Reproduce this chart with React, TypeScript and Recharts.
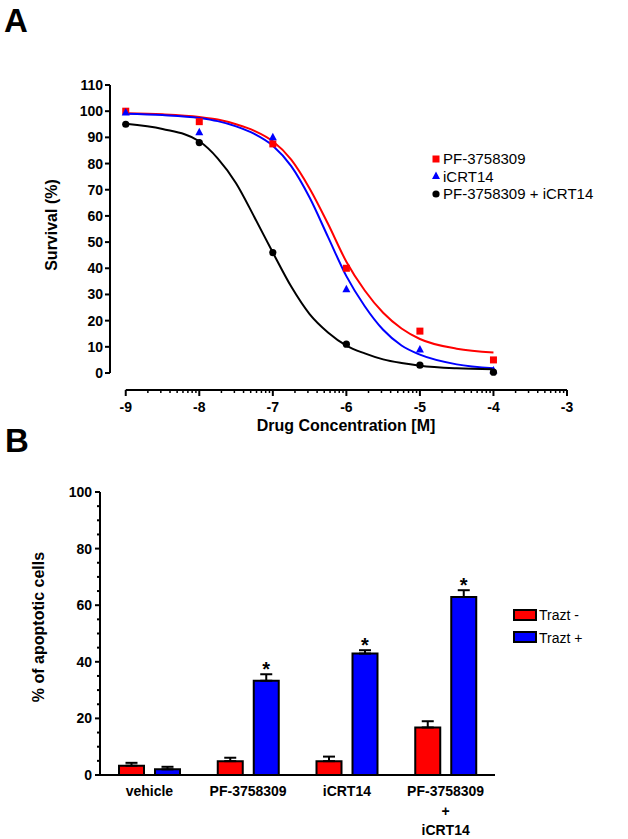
import React from "react";
import {
  ComposedChart,
  Line,
  Scatter,
  XAxis,
  YAxis,
  ReferenceLine,
  Legend,
  BarChart,
  Bar,
  ErrorBar,
  LabelList,
  Label,
} from "recharts";

const FONT = "'Liberation Sans', Arial, Helvetica, sans-serif";

// ---- Panel A: survival vs log dose ----
const seriesA = ["PF-3758309", "iCRT14", "PF-3758309 + iCRT14"];
const doseLog = [-9, -8, -7, -6, -5, -4];
const pfSurvival = [100, 96, 87.5, 40, 16, 5];
const icrtSurvival = [99.5, 92, 90, 32, 9, 1];
const comboSurvival = [95, 88, 46, 11, 3, 0.3];

// fitted curves
const fitLog = [-9, -8.5, -8, -7.75, -7.5, -7.25, -7, -6.75, -6.5, -6.25, -6, -5.75, -5.5, -5.25, -5, -4.5, -4];
const pfFit = [99.2, 98.8, 97.8, 96.8, 95, 92.5, 88.5, 81.5, 70.5, 57, 42.5, 31.5, 23, 17, 13, 9.3, 7.8];
const icrtFit = [99, 98.5, 97.4, 96.2, 94.2, 91.3, 86.8, 79, 67, 52, 37, 25.5, 16.5, 10.5, 7, 3.3, 1.8];
const comboFit = [95.2, 93.2, 88.5, 82, 72.5, 59.5, 46, 33, 22.5, 15.5, 10.5, 7.5, 5.2, 3.8, 2.8, 1.8, 1.4];

const xTickLabels = [-9, -8, -7, -6, -5, -4, -3];
const yTicksA = [0, 10, 20, 30, 40, 50, 60, 70, 80, 90, 100, 110];

// ---- Panel B: apoptosis ----
const seriesB = ["Trazt -", "Trazt +"];
const groups = ["vehicle", "PF-3758309", "iCRT14", "PF-3758309 + iCRT14"];
const traztMinus = [3.3, 4.9, 4.9, 16.8];
const traztMinusSem = [1.0, 1.2, 1.6, 2.2];
const traztPlus = [2.0, 33.3, 42.9, 62.9];
const traztPlusSem = [0.9, 2.3, 1.2, 2.4];
const significant = [false, true, true, true];
const yTicksB = [0, 5, 10, 15, 20, 25, 30, 35, 40, 45, 50, 55, 60, 65, 70, 75, 80, 85, 90, 95, 100];

const pts = (xs: number[], ys: number[]) => xs.map((x, i) => ({ x, y: ys[i] }));

const minorTicks = xTickLabels
  .slice(0, -1)
  .flatMap((d) => [2, 3, 4, 5, 6, 7, 8, 9].map((k) => d + Math.log10(k)));
const xTicksA = [...xTickLabels, ...minorTicks].sort((a, b) => a - b);

const barData = groups.map((g, i) => ({
  group: g,
  minus: traztMinus[i],
  minusErr: [0, traztMinusSem[i]],
  plus: traztPlus[i],
  plusErr: [0, traztPlusSem[i]],
}));

const X_LEFT = -9.214;
const Y_BOTTOM = -6.49;

const ordered = (payload: any[], names: string[]) =>
  (payload || [])
    .filter((e) => names.includes(e.value))
    .sort((a, b) => names.indexOf(a.value) - names.indexOf(b.value));

function Marker({ type, cx, cy, fill }: any) {
  if (type === "square") return <rect x={cx - 3.5} y={cy - 3.5} width={7} height={7} fill={fill} />;
  if (type === "triangle")
    return <polygon points={`${cx},${cy - 4.5} ${cx - 4},${cy + 3} ${cx + 4},${cy + 3}`} fill={fill} />;
  return <circle cx={cx} cy={cy} r={3.6} fill={fill} />;
}

const DoseTick = ({ x, y, payload }: any) => {
  const major = xTickLabels.includes(payload.value);
  return (
    <g>
      <line x1={x} y1={y} x2={x} y2={y + (major ? 6 : 3)} stroke="#000" strokeWidth={major ? 2 : 1.5} />
      {major && (
        <text x={x} y={y + 22} textAnchor="middle" fontSize={14} fontWeight="bold" fontFamily={FONT} fill="#000">
          {payload.value}
        </text>
      )}
    </g>
  );
};

const PercentTick = ({ x, y, payload }: any) => {
  const major = payload.value % 20 === 0;
  return (
    <g>
      <line x1={x - (major ? 5 : 3)} y1={y} x2={x} y2={y} stroke="#000" strokeWidth={2} />
      {major && (
        <text x={x - 8} y={y} dy="0.355em" textAnchor="end" fontSize={14} fontWeight="bold" fontFamily={FONT} fill="#000">
          {payload.value}
        </text>
      )}
    </g>
  );
};

const GroupTick = ({ x, y, payload }: any) => {
  const lines = String(payload.value).split(" + ");
  const rows = lines.length > 1 ? [lines[0], "+", lines[1]] : lines;
  return (
    <g>
      {rows.map((r, i) => (
        <text key={i} x={x} y={y + 21 + i * 19.5} textAnchor="middle" fontSize={14} fontWeight="bold" fontFamily={FONT} fill="#000">
          {r}
        </text>
      ))}
    </g>
  );
};

const LegendA = ({ payload }: any) => (
  <div style={{ fontFamily: FONT, fontSize: 15, color: "#000", lineHeight: "17.5px" }}>
    {ordered(payload, seriesA).map((e: any) => (
      <div key={e.value} style={{ display: "flex", alignItems: "center", whiteSpace: "nowrap" }}>
        <svg width={12} height={10}>
          <Marker type={e.type} cx={5} cy={5} fill={e.color} />
        </svg>
        <span>{e.value}</span>
      </div>
    ))}
  </div>
);

const LegendB = ({ payload }: any) => (
  <div style={{ fontFamily: FONT, fontSize: 14, color: "#000", lineHeight: "22.5px" }}>
    {ordered(payload, seriesB).map((e: any) => (
      <div key={e.value} style={{ display: "flex", alignItems: "center", whiteSpace: "nowrap" }}>
        <svg width={26} height={13}>
          <rect x={1} y={1} width={22} height={10} fill={e.color} stroke="#000" strokeWidth={2} />
        </svg>
        <span>{e.value}</span>
      </div>
    ))}
  </div>
);

const Star = (props: any) => {
  const { x, y, width, height, value, index } = props;
  if (!significant[index]) return null;
  const perUnit = Number(height) / Number(value);
  const errTop = Number(y) - traztPlusSem[index] * perUnit;
  return (
    <text x={Number(x) + Number(width) / 2} y={errTop + 2} textAnchor="middle" fontSize={20} fontWeight="bold" fontFamily={FONT} fill="#000">
      *
    </text>
  );
};

export default function App() {
  return (
    <div style={{ position: "absolute", left: 0, top: 0, width: 628, height: 839, background: "#fff", overflow: "hidden" }}>
      <div style={{ position: "absolute", left: 0, top: 0 }}>
        <ComposedChart width={628} height={440} margin={{ top: 85, right: 61, left: 50, bottom: 0 }}>
          <XAxis
            type="number"
            dataKey="x"
            domain={[X_LEFT, -3]}
            allowDataOverflow
            ticks={xTicksA}
            interval={0}
            axisLine={false}
            tickLine={false}
            tickSize={0}
            tickMargin={0}
            tick={<DoseTick />}
            height={50}
          >
            <Label
              content={() => (
                <text x={346} y={431} textAnchor="middle" fontSize={16} fontWeight="bold" fontFamily={FONT} fill="#000">
                  Drug Concentration [M]
                </text>
              )}
            />
          </XAxis>
          <YAxis
            type="number"
            dataKey="y"
            domain={[Y_BOTTOM, 110]}
            allowDataOverflow
            ticks={yTicksA}
            interval={0}
            axisLine={false}
            tickLine={{ stroke: "#000", strokeWidth: 2 }}
            tickSize={5}
            tick={{ fill: "#000", fontSize: 14, fontWeight: "bold", fontFamily: FONT }}
            width={60}
          >
            <Label
              content={() => (
                <text
                  x={57}
                  y={225}
                  transform="rotate(-90 57 225)"
                  textAnchor="middle"
                  fontSize={16}
                  fontWeight="bold"
                  fontFamily={FONT}
                  fill="#000"
                >
                  Survival (%)
                </text>
              )}
            />
          </YAxis>
          <ReferenceLine
            segment={[{ x: X_LEFT, y: 0 }, { x: X_LEFT, y: 110 }]}
            stroke="#000"
            strokeWidth={2}
            ifOverflow="visible"
          />
          <ReferenceLine
            segment={[{ x: -9, y: Y_BOTTOM }, { x: -3, y: Y_BOTTOM }]}
            stroke="#000"
            strokeWidth={2}
            ifOverflow="visible"
          />
          <Line data={pts(fitLog, pfFit)} dataKey="y" type="monotone" stroke="#ff0000" strokeWidth={2} dot={false} legendType="none" isAnimationActive={false} />
          <Line data={pts(fitLog, icrtFit)} dataKey="y" type="monotone" stroke="#0000ff" strokeWidth={2} dot={false} legendType="none" isAnimationActive={false} />
          <Line data={pts(fitLog, comboFit)} dataKey="y" type="monotone" stroke="#000000" strokeWidth={2} dot={false} legendType="none" isAnimationActive={false} />
          <Scatter
            name={seriesA[0]}
            data={pts(doseLog, pfSurvival)}
            fill="#ff0000"
            legendType="square"
            shape={(p: any) => <Marker type="square" cx={p.cx} cy={p.cy} fill="#ff0000" />}
            isAnimationActive={false}
          />
          <Scatter
            name={seriesA[1]}
            data={pts(doseLog, icrtSurvival)}
            fill="#0000ff"
            legendType="triangle"
            shape={(p: any) => <Marker type="triangle" cx={p.cx} cy={p.cy} fill="#0000ff" />}
            isAnimationActive={false}
          />
          <Scatter
            name={seriesA[2]}
            data={pts(doseLog, comboSurvival)}
            fill="#000000"
            legendType="circle"
            shape={(p: any) => <Marker type="circle" cx={p.cx} cy={p.cy} fill="#000000" />}
            isAnimationActive={false}
          />
          <Legend
            layout="vertical"
            align="center"
            verticalAlign="middle"
            content={<LegendA />}
            wrapperStyle={{ left: 431, top: 150, width: "auto" }}
          />
        </ComposedChart>
      </div>

      <div style={{ position: "absolute", left: 0, top: 440 }}>
        <BarChart width={628} height={399} data={barData} barSize={25} barGap={11} margin={{ top: 52, right: 133, left: 40, bottom: 0 }}>
          <XAxis
            dataKey="group"
            interval={0}
            axisLine={{ stroke: "#000", strokeWidth: 2 }}
            tickLine={false}
            tickSize={0}
            tickMargin={0}
            tick={<GroupTick />}
            height={64}
          />
          <YAxis
            type="number"
            domain={[0, 100]}
            ticks={yTicksB}
            interval={0}
            axisLine={{ stroke: "#000", strokeWidth: 2 }}
            tickLine={false}
            tickSize={0}
            tickMargin={0}
            tick={<PercentTick />}
            width={60}
          >
            <Label
              content={() => (
                <text
                  x={44}
                  y={187}
                  transform="rotate(-90 44 187)"
                  textAnchor="middle"
                  fontSize={16}
                  fontWeight="bold"
                  fontFamily={FONT}
                  fill="#000"
                >
                  % of apoptotic cells
                </text>
              )}
            />
          </YAxis>
          <Bar dataKey="minus" name={seriesB[0]} fill="#ff0000" stroke="#000" strokeWidth={2} legendType="rect" isAnimationActive={false}>
            <ErrorBar dataKey="minusErr" direction="y" width={6} stroke="#000" strokeWidth={2} />
          </Bar>
          <Bar dataKey="plus" name={seriesB[1]} fill="#0000ff" stroke="#000" strokeWidth={2} legendType="rect" isAnimationActive={false}>
            <ErrorBar dataKey="plusErr" direction="y" width={6} stroke="#000" strokeWidth={2} />
            <LabelList dataKey="plus" content={<Star />} />
          </Bar>
          <Legend
            layout="vertical"
            align="center"
            verticalAlign="middle"
            content={<LegendB />}
            wrapperStyle={{ left: 513, top: 164, width: "auto" }}
          />
        </BarChart>
      </div>

      <svg width={628} height={839} style={{ position: "absolute", left: 0, top: 0, pointerEvents: "none" }}>
        <text x={4} y={32} fontSize={33} fontWeight="bold" fontFamily={FONT} fill="#000">A</text>
        <text x={5} y={452} fontSize={33} fontWeight="bold" fontFamily={FONT} fill="#000">B</text>
      </svg>
    </div>
  );
}
